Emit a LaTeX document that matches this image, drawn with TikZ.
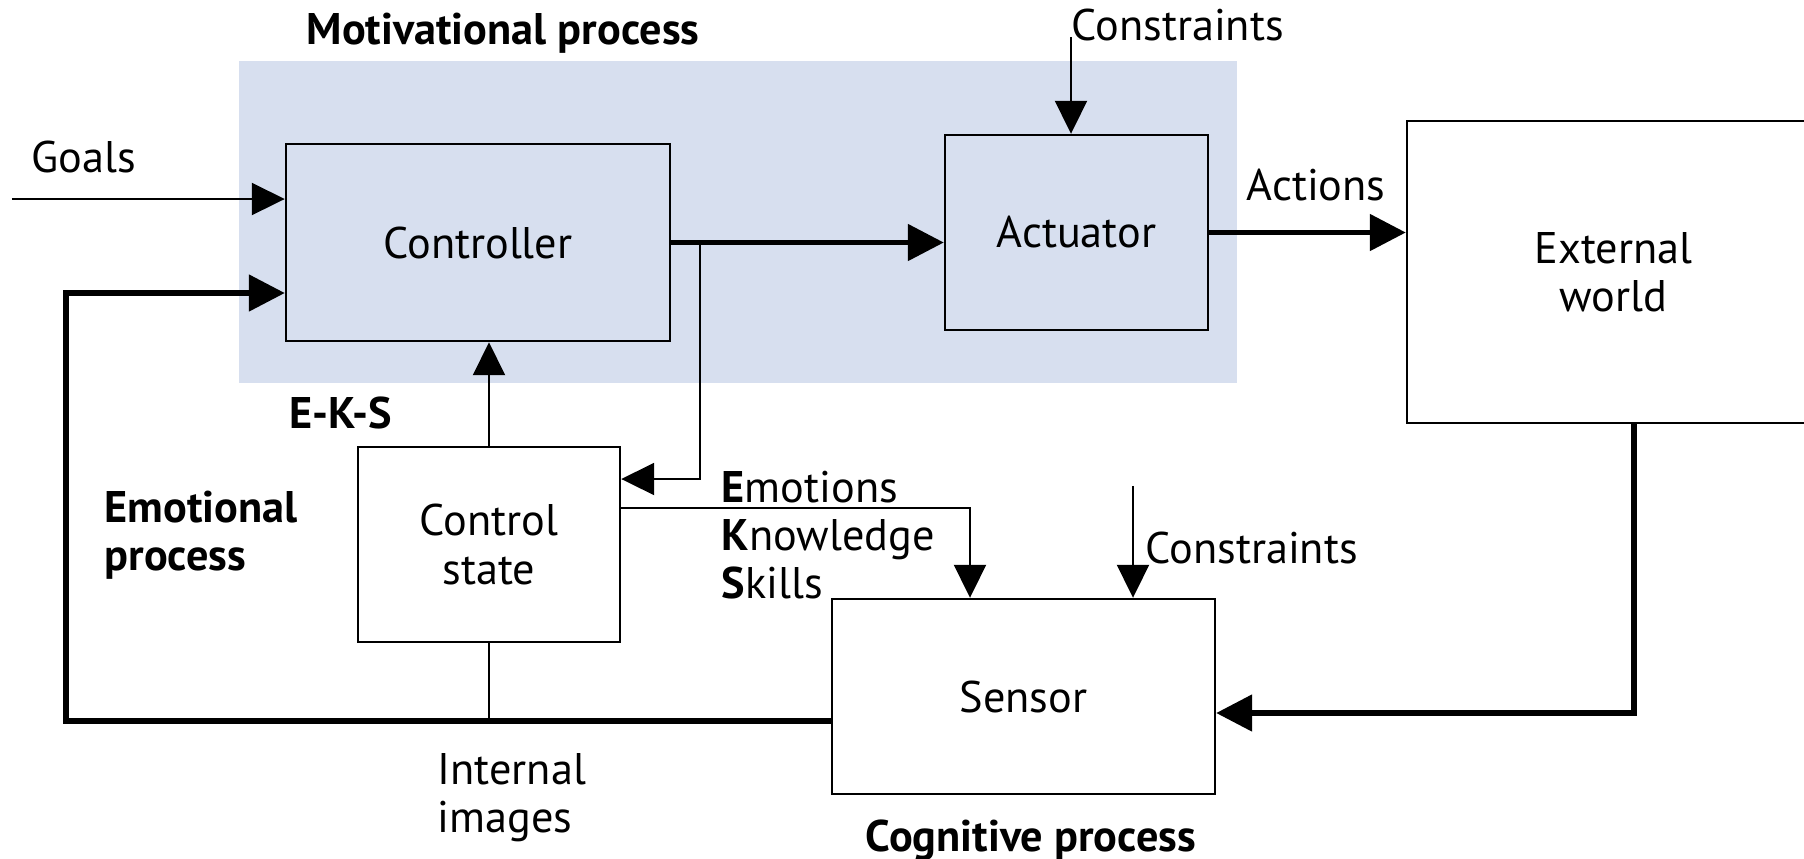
\documentclass[tikz,border=0pt]{standalone}
\usepackage{fontspec}
\setmainfont{PT Sans}
\usetikzlibrary{positioning,calc,arrows.meta}
\definecolor{procblue}{RGB}{215,223,239}
\newcommand{\lblfont}{\fontsize{12.6}{13.7}\selectfont}
\tikzset{
  every picture/.style={x=0.1mm,y=-0.1mm},
  block/.style={draw,line width=0.7pt,inner sep=0pt,align=center,font=\lblfont},
  lbl/.style={inner sep=0pt,anchor=west,align=left,font=\lblfont},
  ttl/.style={inner sep=0pt,align=left,font=\lblfont\bfseries},
  signal/.style={line width=0.6pt,-{Triangle[length=3.3mm,width=3.2mm]}},
  flow/.style={line width=1.5pt,-{Triangle[length=3.6mm,width=3.6mm]}},
}

\begin{document}
\begin{tikzpicture}
  \clip (0,0) rectangle (1804,858);
  \fill[procblue] (239,61) rectangle (1237,383);
  \node[block,minimum width=38.4mm,minimum height=19.7mm] (ctrl) at (478,242.5) {Controller};
  \node[block,minimum width=26.3mm,minimum height=19.5mm] (act) at (1076.5,232.5) {Actuator};
  \node[block,minimum width=41.3mm,minimum height=30.2mm] (ext) at (1613.5,272) {External\\world};
  \node[block,minimum width=26.2mm,minimum height=19.5mm] (cst) at (489,544.5) {Control\\state};
  \node[block,minimum width=38.3mm,minimum height=19.5mm] (sens) at (1023.5,696.5) {Sensor};

  \node[ttl,anchor=west] (motiv) at (306,33) {Motivational process};
  \node[lbl] (goals) at (31,157) {Goals};
  \node[lbl] (cons1) at (1071,25) {Constraints};
  \node[lbl] (acts) at (1246,185) {Actions};
  \node[ttl,anchor=west] (eks) at (289,413) {E-K-S};
  \node[ttl,anchor=west] (emo) at (104,535) {Emotional\\process};
  \node[lbl] (ekslist) at (721,535) {\textbf{E}motions\\\textbf{K}nowledge\\\textbf{S}kills};
  \node[lbl] (cons2) at (1145,548) {Constraints};
  \node[lbl] (intimg) at (437,797.5) {Internal\\images};
  \node[ttl] (cogn) at (1031,840) {Cognitive process};

  \coordinate (goalsin) at (12,199);
  \coordinate (fbl) at (66,721);
  \coordinate (fbup) at (66,293);
  \coordinate (split) at (700,242.5);

  \draw[signal] (goalsin) -- (goalsin -| ctrl.west);
  \draw[flow] (sens.west |- fbl) -- (fbl) -- (fbup) -- (fbup -| ctrl.west);
  \draw[line width=0.6pt] (cst.south) -- (cst.south |- fbl);
  \draw[signal] (cst.north) -- (cst.north |- ctrl.south);
  \draw[flow] (ctrl.east) -- (ctrl.east -| act.west);
  \draw[signal] (split) |- ($(cst.east)+(0,-65.5)$);
  \draw[signal] ($(cst.east)+(0,-36.5)$) -| ($(sens.north)+(-53.5,0)$);
  \draw[signal] ($(sens.north)+(109.5,-112)$) -- ($(sens.north)+(109.5,0)$);
  \draw[signal] ($(act.north)+(-5.5,-97)$) -- ($(act.north)+(-5.5,0)$);
  \draw[flow] (act.east) -- (act.east -| ext.west);
  \draw[flow] ($(ext.south)+(20.5,0)$) |- ($(sens.east)+(0,16.5)$);
\end{tikzpicture}
\end{document}
